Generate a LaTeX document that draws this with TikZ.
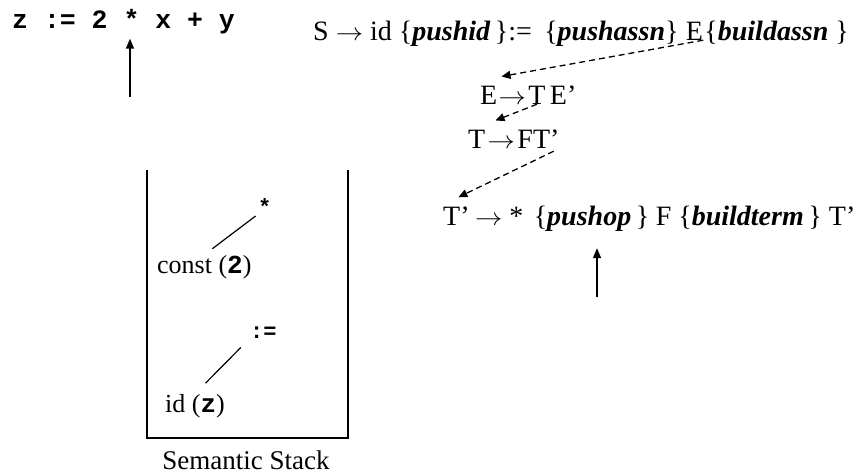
\documentclass[tikz,border=0pt]{standalone}
\usepackage{fontspec}
\setmainfont{Liberation Serif}
\setmonofont{Liberation Mono}
\usetikzlibrary{arrows.meta, positioning}
\newcommand{\act}[1]{\{\textbf{\textit{#1}}\}}
\newcommand{\tok}[1]{\textbf{\texttt{#1}}}
\newcommand{\yields}{\scalebox{1.1}[1]{$\rightarrow$}}

\begin{document}
\begin{tikzpicture}[x=1pt, y=-1pt, font=\fontsize{28}{32}\selectfont,
	rule/.style={anchor=base west, inner sep=0pt},
	entry/.style={anchor=base west, inner sep=0pt, font=\fontsize{26}{30}\selectfont},
	token/.style={anchor=base west, inner sep=0pt, font=\fontsize{22}{26}\selectfont\ttfamily\bfseries},
	derive/.style={dash pattern=on 6pt off 4pt, line width=1.3pt, -{Triangle[length=9pt, width=8pt]}},
	pointer/.style={line width=1.5pt, -{Triangle[length=10pt, width=8pt]}},
	tree/.style={line width=1.2pt},
	wall/.style={line width=1.5pt}]
	\useasboundingbox (0,0) rectangle (865,475);

	% input and its pointer
	\node[rule, font=\fontsize{26.5}{30}\selectfont\ttfamily\bfseries] (input) at (12,28) {z := 2 * x + y};
	\coordinate (inputptr) at (130,97);
	\draw[pointer, shorten >=5pt] (inputptr) -- (inputptr |- input.south);

	% productions
	\node[rule] (sHead) at (313,40) {S \yields{} id \act{pushid\,}:=};
	\node[rule] (sPush) at ([xshift=12pt]sHead.base east) {\act{pushassn}};
	\node[rule] (sE) at ([xshift=7pt]sPush.base east) {E};
	\node[rule] (sBuild) at ([xshift=1pt]sE.base east) {\act{buildassn\ }};

	\node[rule] (eE) at (480,104) {E};
	\node[rule] (eArr) at ([xshift=1pt]eE.base east) {\yields};
	\node[rule] (eT) at ([xshift=2pt]eArr.base east) {T};
	\node[rule] (eTail) at ([xshift=4pt]eT.base east) {E'};

	\node[rule] (tT) at (468,148) {T};
	\node[rule] (tArr) at ([xshift=2pt]tT.base east) {\yields};
	\node[rule] (tFT) at ([xshift=2pt]tArr.base east) {FT'};

	\node[rule] (pT) at (443,225) {T'};
	\node[rule] (pStar) at ([xshift=5pt]pT.base east) {\yields\ *};
	\node[rule] (pPush) at ([xshift=10pt]pStar.base east) {\act{pushop\,}};
	\node[rule] (pRest) at ([xshift=6pt]pPush.base east) {F \act{buildterm\,} T'};
	\coordinate (actptr) at (597,297);
	\draw[pointer, shorten >=17pt] (actptr) -- (actptr |- pPush.south);

	\draw[derive] (sE.south east) -- ([shift={(4,-9)}]eE.north east);
	\draw[derive] (eT.south) -- ([shift={(10,-9)}]tT.north east);
	\draw[derive] ([shift={(-6,3)}]tFT.south east) -- ([shift={(2,-9)}]pT.north);

	% semantic stack
	\draw[wall] (147,170) -- (147,438) -- (348,438) -- (348,170);
	\node[font=\fontsize{27}{30}\selectfont] (stackname) at (246,460) {Semantic Stack};
	\node[token] (stkstar) at (258,214) {*};
	\node[entry] (cnst) at (157,273) {const (\tok{2})};
	\node[token] (assign) at (250,338) {:=};
	\node[entry] (idz) at (165,412) {id (\tok{z})};
	\draw[tree, shorten <=10pt, shorten >=3pt] (cnst.north) -- (stkstar.south west);
	\draw[tree, shorten <=15pt, shorten >=13pt] (idz.north) -- (assign.south west);
\end{tikzpicture}
\end{document}
